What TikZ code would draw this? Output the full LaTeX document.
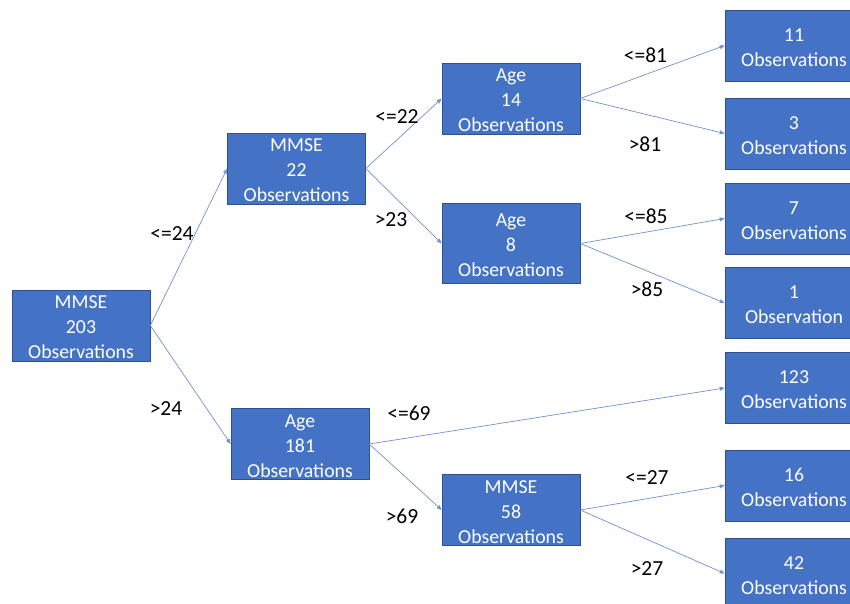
\documentclass[tikz,border=0pt]{standalone}
\usepackage{fontspec}
\setmainfont{Carlito}
\usepackage{xcolor}
\usetikzlibrary{arrows.meta, positioning}
\definecolor{boxblue}{RGB}{68,114,196}
\definecolor{boxedge}{RGB}{47,82,143}
\definecolor{linkblue}{RGB}{110,146,212}
\newcommand{\topstrut}{\rule{0pt}{17pt}}

\begin{document}
\begin{tikzpicture}[x=1pt, y=-1pt,
    split/.style={rectangle, draw=boxedge, fill=boxblue, line width=0.6pt,
                  minimum width=138pt, minimum height=71pt, inner sep=0pt,
                  align=center, text=white, font=\fontsize{19.8}{25}\selectfont},
    leaf/.style={split},
    cond/.style={inner sep=0pt, text=black, font=\fontsize{21.5}{24}\selectfont},
    arrow/.style={-{Triangle[length=5pt, width=4pt]}, line width=0.7pt, draw=linkblue},
]
\useasboundingbox (0,0) rectangle (850,604);
\clip (0,0) rectangle (850,604);

% Root split
\node[split] (root) at (81,325.5) {\topstrut MMSE\\203\\Observations};

% Second level
\node[split] (mmse22) at (296.5,168.5) {\topstrut MMSE\\22\\Observations};
\node[split] (age181) at (300,444) {\topstrut Age\\181\\Observations};

% Third level
\node[split] (age14) at (511,98.5) {\topstrut Age\\14\\Observations};
\node[split, minimum height=80pt] (age8) at (511,243.5) {\topstrut Age\\8\\Observations};
\node[split] (mmse58) at (511,510) {\topstrut MMSE\\58\\Observations};

% Leaves
\node[leaf] (obs11) at (794,45.5) {\topstrut 11\\Observations};
\node[leaf] (obs3) at (794,133.5) {\topstrut 3\\Observations};
\node[leaf] (obs7) at (794,218.5) {\topstrut 7\\Observations};
\node[leaf] (obs1) at (794,303) {\topstrut 1\\Observation};
\node[leaf] (obs123) at (794,388) {\topstrut 123\\Observations};
\node[leaf] (obs16) at (794,485.5) {\topstrut 16\\Observations};
\node[leaf] (obs42) at (794,573.5) {\topstrut 42\\Observations};

% Branches
\draw[arrow] (root.east) -- (mmse22.west);
\draw[arrow] (root.east) -- (age181.west);
\draw[arrow] (mmse22.east) -- (age14.west);
\draw[arrow] (mmse22.east) -- (age8.west);
\draw[arrow] (age181.east) -- (obs123.west);
\draw[arrow] (age181.east) -- (mmse58.west);
\draw[arrow] (age14.east) -- (obs11.west);
\draw[arrow] (age14.east) -- (obs3.west);
\draw[arrow] (age8.east) -- (obs7.west);
\draw[arrow] (age8.east) -- (obs1.west);
\draw[arrow] (mmse58.east) -- (obs16.west);
\draw[arrow] (mmse58.east) -- (obs42.west);

% Split conditions
\node[cond] (c24le) at (172,234) {<=24};
\node[cond] (c24gt) at (166,409) {>24};
\node[cond] (c22le) at (397,117) {<=22};
\node[cond] (c23gt) at (391,220) {>23};
\node[cond] (c69le) at (409,413) {<=69};
\node[cond] (c69gt) at (402,516) {>69};
\node[cond] (c81le) at (645.5,55) {<=81};
\node[cond] (c81gt) at (645,144) {>81};
\node[cond] (c85le) at (646,216) {<=85};
\node[cond] (c85gt) at (647,289) {>85};
\node[cond] (c27le) at (647,478) {<=27};
\node[cond] (c27gt) at (647,569) {>27};

\end{tikzpicture}
\end{document}
